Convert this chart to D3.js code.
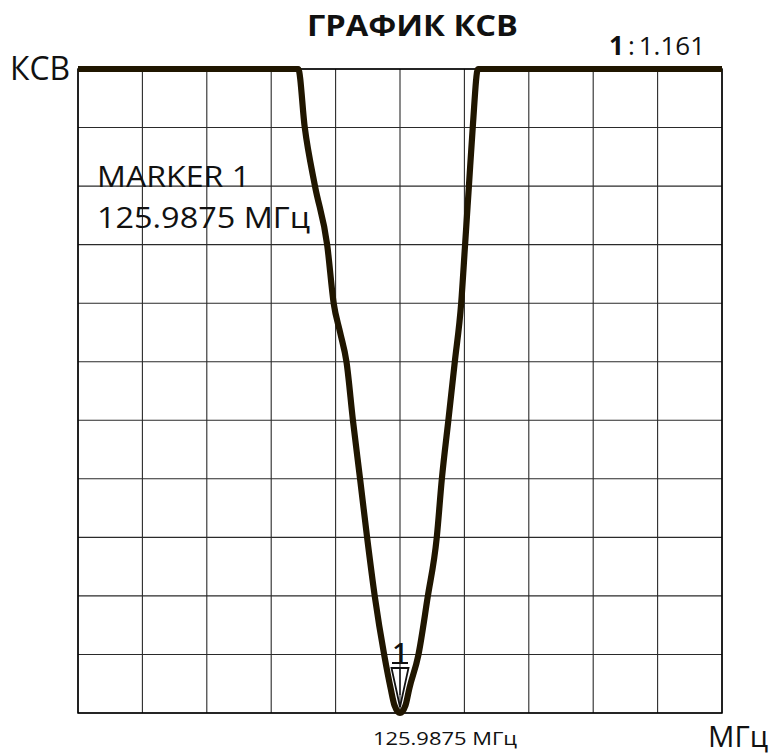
<!DOCTYPE html>
<html>
<head>
<meta charset="utf-8">
<script src="https://cdn.jsdelivr.net/npm/d3@7"></script>
<style>
  html, body { margin: 0; padding: 0; background: #fff; }
  svg { display: block; font-family: "Open Sans", sans-serif; }
</style>
</head>
<body>
<svg id="chart" width="773" height="756"></svg>
<script>
// ---- data (grid divisions: x 0..10, y 0..11) ----
const xDivisions = d3.range(0, 11);
const yDivisions = d3.range(0, 12);
const swrX = [0, 3.42, 3.52, 3.68, 3.87, 3.97, 4.07, 4.17, 4.27, 4.38, 4.49, 4.61, 4.755, 4.855, 4.915, 5.0,
              5.085, 5.145, 5.285, 5.43, 5.57, 5.65, 5.75, 5.85, 5.95, 6.01, 6.07, 6.13, 6.21, 10];
const swrY = [11, 11, 10.01, 9.0, 7.99, 7.0, 6.5, 5.99, 4.99, 4.0, 2.99, 1.98, 0.99, 0.42, 0.13, 0,
              0.13, 0.42, 0.99, 1.98, 2.99, 4.0, 4.99, 5.99, 7.0, 7.99, 9.0, 10.01, 11, 11];
const markerX = [5.0];
const markerY = [0];
const titleText = "ГРАФИК КСВ";
const yAxisLabel = "КСВ";
const xAxisLabel = "МГц";
const markerReadout = ["1", ":", "1.161"];
const markerLines = ["MARKER 1", "125.9875 МГц"];
const markerFreqLabel = "125.9875 МГц";

const svg = d3.select("#chart");
const pLeft = 78, pRight = 722, pTop = 69, pBottom = 713;
const x = d3.scaleLinear().domain([0, 10]).range([pLeft, pRight]);
const y = d3.scaleLinear().domain([0, 11]).range([pBottom, pTop]);

// grid
const grid = svg.append("g").attr("stroke", "#2a2a2a").attr("stroke-width", 1.1);
grid.selectAll("line.v").data(xDivisions).join("line").attr("class", "v")
  .attr("x1", d => x(d)).attr("x2", d => x(d))
  .attr("y1", y(0)).attr("y2", y(11));
grid.selectAll("line.h").data(yDivisions).join("line").attr("class", "h")
  .attr("y1", d => y(d)).attr("y2", d => y(d))
  .attr("x1", x(0)).attr("x2", x(10));
svg.append("rect").attr("x", x(0)).attr("y", y(11))
  .attr("width", x(10) - x(0)).attr("height", y(0) - y(11))
  .attr("fill", "none").attr("stroke", "#000").attr("stroke-width", 1.5);

// SWR curve
const pts = swrX.map((v, i) => [v, swrY[i]]);
const line = d3.line().x(d => x(d[0])).y(d => y(d[1])).curve(d3.curveMonotoneX);
svg.append("path").attr("d", line(pts))
  .attr("fill", "none").attr("stroke", "#201600").attr("stroke-width", 6.2)
  .attr("stroke-linejoin", "round");

// marker triangle
const mx = x(markerX[0]), my = y(markerY[0]);
svg.append("path")
  .attr("d", `M${mx - 8.5},${my - 45} L${mx + 8.5},${my - 45} L${mx},${my - 6} Z`)
  .attr("fill", "none").attr("stroke", "#111").attr("stroke-width", 1.8);
svg.append("line").attr("x1", mx).attr("x2", mx).attr("y1", my - 45).attr("y2", my - 18)
  .attr("stroke", "#111").attr("stroke-width", 1.3);
svg.append("text").attr("x", mx).attr("y", my - 51).attr("text-anchor", "middle")
  .attr("font-size", 27).attr("font-weight", 600).attr("fill", "#111").text("1");
svg.append("line").attr("x1", mx - 8).attr("x2", mx + 8).attr("y1", my - 50).attr("y2", my - 50)
  .attr("stroke", "#111").attr("stroke-width", 2);

// texts
svg.append("text").attr("x", 307).attr("y", 36)
  .attr("font-size", 29).attr("font-weight", 700).attr("fill", "#111")
  .attr("textLength", 211).attr("lengthAdjust", "spacingAndGlyphs").text(titleText);

const ro = svg.append("text").attr("x", 609).attr("y", 55).attr("font-size", 26).attr("fill", "#111");
ro.append("tspan").attr("font-weight", 700).text(markerReadout[0]);
ro.append("tspan").attr("dx", 4).text(markerReadout[1]);
ro.append("tspan").attr("dx", 4).text(markerReadout[2]);

svg.append("text").attr("x", 10).attr("y", 80).attr("font-size", 33)
  .attr("textLength", 60).attr("lengthAdjust", "spacingAndGlyphs").attr("fill", "#111").text(yAxisLabel);

svg.append("text").attr("x", 97).attr("y", 187).attr("font-size", 30)
  .attr("textLength", 153).attr("lengthAdjust", "spacingAndGlyphs").attr("fill", "#111").text(markerLines[0]);
svg.append("text").attr("x", 97).attr("y", 228).attr("font-size", 30)
  .attr("textLength", 213).attr("lengthAdjust", "spacingAndGlyphs").attr("fill", "#111").text(markerLines[1]);

svg.append("text").attr("x", 373).attr("y", 745).attr("font-size", 19)
  .attr("textLength", 144).attr("lengthAdjust", "spacingAndGlyphs").attr("fill", "#111").text(markerFreqLabel);

svg.append("text").attr("x", 708).attr("y", 747).attr("font-size", 30)
  .attr("textLength", 60).attr("lengthAdjust", "spacingAndGlyphs").attr("fill", "#111").text(xAxisLabel);
</script>
</body>
</html>
